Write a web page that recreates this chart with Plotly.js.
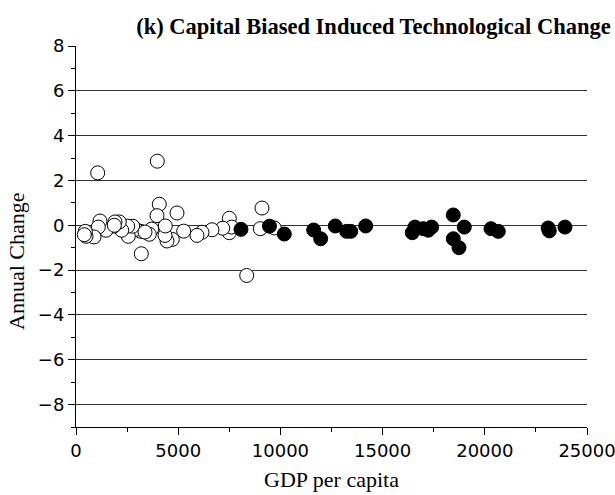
<!DOCTYPE html>
<html>
<head>
<meta charset="utf-8">
<script src="https://cdn.plot.ly/plotly-3.0.1.min.js"></script>
<style>html,body{margin:0;padding:0;background:#fff;}#chart{width:615px;height:495px;}</style>
</head>
<body>
<div id="chart"></div>
<script>
// Open circles (lower income economies)
const openX = [1062, 3977, 4075, 3963, 4941, 9099, 7500, 7500, 7617, 7177, 6653, 6164, 5919, 5269, 4711, 4452, 4354, 4369, 3703, 3586, 3165, 3194, 2921, 2558, 2774, 2529, 2236, 2118, 1908, 1844, 1468, 1174, 1091, 881, 489, 455, 9016, 8351, 9701, 406, 1874, 3375];
const openY = [2.34, 2.86, 0.94, 0.43, 0.55, 0.77, 0.31, -0.33, -0.08, -0.13, -0.20, -0.31, -0.45, -0.26, -0.63, -0.70, -0.45, -0.03, -0.17, -0.40, -0.27, -1.27, -0.18, -0.49, -0.04, -0.04, -0.22, 0.15, 0.15, -0.04, -0.22, 0.19, -0.08, -0.52, -0.49, -0.27, -0.15, -2.24, -0.12, -0.42, 0.00, -0.30];
// Filled circles (higher income economies)
const fillX = [8072, 9466, 10190, 11628, 11970, 12685, 13243, 13439, 14172, 16452, 16584, 16990, 17235, 17401, 18458, 18996, 18458, 18737, 20302, 20659, 23100, 23154, 23922];
const fillY = [-0.18, -0.04, -0.39, -0.21, -0.60, -0.03, -0.27, -0.27, -0.03, -0.33, -0.08, -0.15, -0.22, -0.08, 0.46, -0.08, -0.60, -1.00, -0.15, -0.27, -0.12, -0.25, -0.08];

const titleText = '(k) Capital Biased Induced Technological Change';
const xTitle = 'GDP per capita';
const yTitle = 'Annual Change';

const tickFont = {family: 'DejaVu Sans, sans-serif', size: 18, color: '#000'};
const serif = 'Liberation Serif, Times New Roman, serif';

const traces = [
  {x: openX, y: openY, type: 'scatter', mode: 'markers', showlegend: false,
   marker: {symbol: 'circle', size: 14, color: '#fff', line: {color: '#000', width: 1}}},
  {x: fillX, y: fillY, type: 'scatter', mode: 'markers', showlegend: false,
   marker: {symbol: 'circle', size: 14, color: '#000', line: {color: '#000', width: 1}}}
];

const layout = {
  width: 615, height: 495,
  margin: {l: 76, r: 28, t: 46, b: 68},
  paper_bgcolor: '#fff', plot_bgcolor: '#fff',
  showlegend: false,
  title: {text: '<b>' + titleText + '</b>', font: {family: serif, size: 22.5, color: '#000'},
          xref: 'container', x: 0.993, xanchor: 'right', yref: 'container', y: 0.947, yanchor: 'middle'},
  xaxis: {
    range: [0, 25000], tick0: 0, dtick: 5000, tickmode: 'linear', tickformat: 'd',
    ticks: 'outside', ticklen: 7, tickwidth: 1, tickcolor: '#000',
    ticklabeloverflow: 'allow',
    minor: {dtick: 2500, ticks: 'outside', ticklen: 4, tickcolor: '#000', showgrid: false},
    showline: true, linecolor: '#000', linewidth: 1,
    showgrid: false, zeroline: false,
    tickfont: tickFont,
    title: {text: xTitle, font: {family: serif, size: 22, color: '#000'}, standoff: 12}
  },
  yaxis: {
    range: [-9, 8], tick0: 0, dtick: 2, tickmode: 'linear',
    ticks: 'outside', ticklen: 7, tickwidth: 1, tickcolor: '#000',
    minor: {dtick: 1, ticks: 'outside', ticklen: 4, tickcolor: '#000', showgrid: false},
    showline: true, linecolor: '#000', linewidth: 1,
    showgrid: true, gridcolor: '#333', gridwidth: 1,
    zeroline: true, zerolinecolor: '#333', zerolinewidth: 1,
    tickfont: tickFont
  },
  annotations: [{
    text: yTitle, textangle: -90, showarrow: false,
    xref: 'paper', x: -0.1155, xanchor: 'center',
    yref: 'paper', y: 0.4357, yanchor: 'middle',
    font: {family: serif, size: 22, color: '#000'}
  }]
};

Plotly.newPlot('chart', traces, layout, {staticPlot: true, displayModeBar: false});
</script>
</body>
</html>
